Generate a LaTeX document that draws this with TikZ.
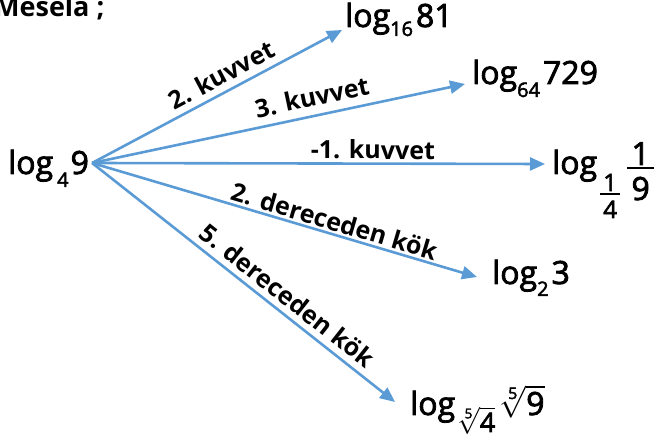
\RequirePackage{fix-cm}
\documentclass[tikz,border=0pt]{standalone}
\usepackage{amsmath}
\usepackage{fontspec}
\setmainfont{Open Sans}
\newfontfamily\exprfont[FakeBold=2.5]{Open Sans}
\usetikzlibrary{arrows.meta,calc}
\definecolor{arrowblue}{HTML}{5B9BD5}
% subscript of a logarithm: smaller and lowered
\newcommand{\logsub}[2][12pt]{\raisebox{-#1}{\fontsize{20}{24}\selectfont #2}}
% stacked fraction: raise of numerator, bar, denominator; bar width and thickness
\newcommand{\stackfrac}[7]{%
  \makebox[#6][c]{\raisebox{#3}{#1}}\hspace{-#6}%
  \rule[#4]{#6}{#7}\hspace{-#6}%
  \makebox[#6][c]{\raisebox{#5}{#2}}}
\tikzset{
  expr/.style={font=\exprfont\fontsize{32}{38}\selectfont, inner sep=0pt, anchor=base west},
  titletext/.style={font=\fontsize{27}{32}\selectfont\bfseries, inner sep=0pt, anchor=base west},
  edgelabel/.style={font=\fontsize{25}{30}\selectfont\bfseries, inner sep=1pt, sloped},
  link/.style={draw=arrowblue, line width=2.6pt, -{Triangle[length=15pt,width=13pt]}},
}
\begin{document}
\begin{tikzpicture}[x=1pt,y=-1pt]
  \useasboundingbox (0,0) rectangle (659,443);

  \node[titletext] (title) at (-6,17) {Mesela ;};

  % source and target expressions
  \node[expr] (src) at (8,174) {log\hspace{4pt}\logsub[13pt]{4}\hspace{2pt}9};
  \node[expr] (t1) at (345,27) {log\logsub[9pt]{16}\hspace{3pt}81};
  \node[expr] (t2) at (472,84) {log\logsub[13pt]{64}\hspace{3pt}729};
  \node[expr] (t3) at (552,174) {log\hspace{3pt}%
    {\fontsize{24}{28}\selectfont\stackfrac{1}{4}{-17pt}{-21pt}{-44pt}{20pt}{1.5pt}}%
    \hspace{7pt}\stackfrac{1}{9}{9pt}{5pt}{-26pt}{27pt}{2pt}};
  \node[expr] (t4) at (492,284) {log\logsub[12pt]{2}\hspace{3pt}3};
  \node[expr] (t5) at (410,415) {log\hspace{2pt}\raisebox{-17pt}{\fontsize{27}{32}\selectfont$\sqrt[\text{5}]{\text{4}}$}\hspace{4pt}$\sqrt[\text{5}]{\text{9}}$};

  % arrow end points next to each expression
  \coordinate (o)  at ($(src.base east)+(3,-11)$);
  \coordinate (e1) at ($(t1.base west)+(-3,3)$);
  \coordinate (e2) at ($(t2.base west)+(-7,0)$);
  \coordinate (e3) at ($(t3.base west)+(-7,-10)$);
  \coordinate (e4) at ($(t4.base west)+(-15,-7)$);
  \coordinate (e5) at ($(t5.base west)+(-15,-13)$);

  \draw[link] (o) -- node[edgelabel, pos=0.55, above=5pt] {2. kuvvet} (e1);
  \draw[link] (o) -- node[edgelabel, pos=0.60, above=7pt] {3. kuvvet} (e2);
  \draw[link] (o) -- node[edgelabel, pos=0.62, above=2pt] {-1. kuvvet} (e3);
  \draw[link] (o) -- node[edgelabel, pos=0.62, above=1pt] {2. dereceden kök} (e4);
  \draw[link] (o) -- node[edgelabel, pos=0.61, above=5pt] {5. dereceden kök} (e5);
\end{tikzpicture}
\end{document}
